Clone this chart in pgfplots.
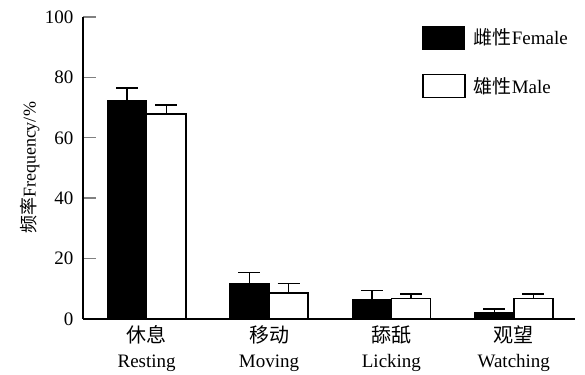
\documentclass[border=0pt]{standalone}
\usepackage{fontspec}
\setmainfont{Liberation Serif}
\newfontfamily\cjk{Noto Sans CJK SC}
\usepackage{pgfplots}
\pgfplotsset{compat=1.18}
\begin{document}
\begin{tikzpicture}
\begin{axis}[
  scale only axis,
  width=492pt, height=302pt,
  xmin=-0.52, xmax=3.5,
  ymin=0, ymax=100,
  axis lines=left,
  axis line style={-, line width=1.4pt},
  ytick={0,20,...,100},
  tick align=inside,
  major tick length=13pt,
  ytick style={line width=1.4pt},
  xtick={0,1,2,3},
  xtick style={draw=none},
  xticklabels={{\cjk\fontsize{20}{25}\selectfont 休息\\Resting},{\cjk\fontsize{20}{25}\selectfont 移动\\Moving},{\cjk\fontsize{20}{25}\selectfont 舔舐\\Licking},{\cjk\fontsize{20}{25}\selectfont 观望\\Watching}},
  xticklabel style={align=center, font=\fontsize{19}{25}\selectfont, yshift=-3pt},
  yticklabel style={font=\fontsize{19}{22}\selectfont, xshift=-6pt},
  /pgf/number format/assume math mode=true,
  ylabel={{\cjk 频率}Frequency/\%},
  ylabel style={font=\fontsize{18}{22}\selectfont, at={(axis description cs:-0.108,0.5)}, anchor=center},
  legend style={at={(0.689,0.972)}, anchor=north west, draw=none, fill=none, inner sep=0pt,
    row sep=24pt, font=\fontsize{19}{22}\selectfont, column sep=6pt},
  legend cell align=left,
  clip=false,
]
\addplot[ybar, bar width=0.32, bar shift=0pt, fill=black, draw=black, line width=1pt,
  legend image code/.code={\draw[fill=black, draw=black, line width=1pt] (0pt,-11.5pt) rectangle (42pt,11.5pt);},
  error bars/.cd, y dir=plus, y explicit,
  error mark options={rotate=90, mark size=11pt, line width=1.4pt, black},
  error bar style={line width=1.4pt, black}]
  coordinates {(-0.16,72.5) +- (0,4.0) (0.84,11.8) +- (0,3.5) (1.84,6.3) +- (0,3.1) (2.84,2.2) +- (0,1.1)};
\addlegendentry{{\cjk 雌性}Female}
\addplot[ybar, bar width=0.32, bar shift=0pt, fill=white, draw=black, line width=1.6pt,
  legend image code/.code={\draw[fill=white, draw=black, line width=1.6pt] (0pt,-11.5pt) rectangle (42pt,11.5pt);},
  error bars/.cd, y dir=plus, y explicit,
  error mark options={rotate=90, mark size=11pt, line width=1.4pt, black},
  error bar style={line width=1.4pt, black}]
  coordinates {(0.16,67.9) +- (0,3.0) (1.16,8.7) +- (0,3.1) (2.16,6.8) +- (0,1.5) (3.16,6.8) +- (0,1.5)};
\addlegendentry{{\cjk 雄性}Male}
\end{axis}
\path ([xshift=-83pt,yshift=-55pt]current axis.south west) rectangle ([xshift=10pt,yshift=17pt]current axis.north east);
\end{tikzpicture}
\end{document}
